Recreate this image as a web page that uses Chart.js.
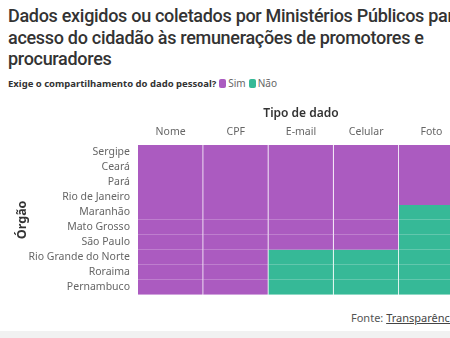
<!DOCTYPE html>
<html>
<head>
<meta charset="utf-8">
<script src="https://cdn.jsdelivr.net/npm/chart.js@4"></script>
<style>
  html, body { margin: 0; padding: 0; background: #fff; overflow: hidden; }
  body { width: 450px; height: 338px; position: relative; font-family: "Noto Sans", sans-serif; }
  #title { position: absolute; left: 8px; top: 5px; width: 600px; font-family: Roboto, sans-serif; font-size: 18px; font-weight: 500; letter-spacing: -0.3px; line-height: 21.5px; color: #333; white-space: nowrap; }
  #legend { position: absolute; left: 8px; top: 76px; font-size: 9.5px; color: #333; white-space: nowrap; }
  #legend b { font-weight: 700; }
  .sw { display: inline-block; width: 7px; height: 9px; border-radius: 2px; vertical-align: -1px; margin: 0 2px 0 3px; }
  .lab { color: #666; font-size: 10px; }
  #wrap { position: absolute; left: 0; top: 95px; width: 480px; height: 214px; }
  #foot { position: absolute; left: 351px; top: 310px; font-size: 11px; color: #555; white-space: nowrap; }
  #foot u { color: #444; }
  #band { position: absolute; left: 0; top: 331px; width: 450px; height: 7px; background: #f1f1f1; }
</style>
</head>
<body>
<div id="title">Dados exigidos ou coletados por Ministérios Públicos para o<br>acesso do cidadão às remunerações de promotores e<br>procuradores</div>
<div id="legend"><b>Exige o compartilhamento do dado pessoal?</b><span class="sw" style="background:#ab5bc0"></span><span class="lab">Sim</span><span class="sw" style="background:#36b997"></span><span class="lab">Não</span></div>
<div id="wrap"><canvas id="my-chart"></canvas></div>
<div id="foot">Fonte: <u>Transparência Brasil</u></div>
<div id="band"></div>
<script>
const rows = ['Sergipe', 'Ceará', 'Pará', 'Rio de Janeiro', 'Maranhão', 'Mato Grosso', 'São Paulo', 'Rio Grande do Norte', 'Roraima', 'Pernambuco'];
const cols = ['Nome', 'CPF', 'E-mail', 'Celular', 'Foto'];
// 1 = Sim, 0 = Não
const nome    = [1, 1, 1, 1, 1, 1, 1, 1, 1, 1];
const cpf     = [1, 1, 1, 1, 1, 1, 1, 1, 1, 1];
const email   = [1, 1, 1, 1, 1, 1, 1, 0, 0, 0];
const celular = [1, 1, 1, 1, 1, 1, 1, 0, 0, 0];
const foto    = [1, 1, 1, 1, 0, 0, 0, 0, 0, 0];

const purple = '#ab5bc0';
const green = '#36b997';
const series = [nome, cpf, email, celular, foto];

const ctx = document.querySelector('#my-chart');
new Chart(ctx, {
  type: 'bar',
  data: {
    labels: rows,
    datasets: series.map((s, i) => ({
      label: cols[i],
      data: s.map(() => 1),
      backgroundColor: s.map(v => v ? purple : green),
      borderColor: 'rgba(255,255,255,0.55)',
      borderWidth: { top: 0, bottom: 0, left: 0, right: 1 },
      borderSkipped: false,
      barPercentage: 1,
      categoryPercentage: 1
    }))
  },
  options: {
    indexAxis: 'y',
    responsive: true,
    maintainAspectRatio: false,
    animation: false,
    layout: { padding: { left: 8, right: 16, bottom: 5, top: 0 } },
    plugins: { legend: { display: false }, tooltip: { enabled: false } },
    scales: {
      x: {
        stacked: true,
        position: 'top',
        min: 0,
        max: 5,
        grid: { display: false, drawTicks: false },
        border: { display: false },
        afterBuildTicks: (axis) => { axis.ticks = cols.map((c, i) => ({ value: i + 0.5 })); },
        afterFit: (scale) => { scale.height = 50; },
        ticks: {
          autoSkip: false,
          maxRotation: 0,
          padding: 7,
          color: '#666',
          font: { family: 'Noto Sans', size: 10.5 },
          callback: (v, i) => cols[i]
        },
        title: {
          display: true,
          text: 'Tipo de dado',
          color: '#333',
          font: { family: 'Noto Sans', size: 12, weight: '600' },
          padding: { top: 11, bottom: 0 }
        }
      },
      y: {
        stacked: true,
        z: 1,
        grid: { offset: true, color: 'rgba(255,255,255,0.25)', drawTicks: false },
        border: { display: false },
        afterFit: (scale) => { scale.width = 130; },
        ticks: {
          autoSkip: false,
          padding: 8,
          color: '#666',
          font: { family: 'Noto Sans', size: 10.5 }
        },
        title: {
          display: true,
          text: 'Órgão',
          color: '#333',
          font: { family: 'Noto Sans', size: 12.5, weight: '700' },
          padding: { top: 7, bottom: 0 }
        }
      }
    }
  }
});
</script>
</body>
</html>
